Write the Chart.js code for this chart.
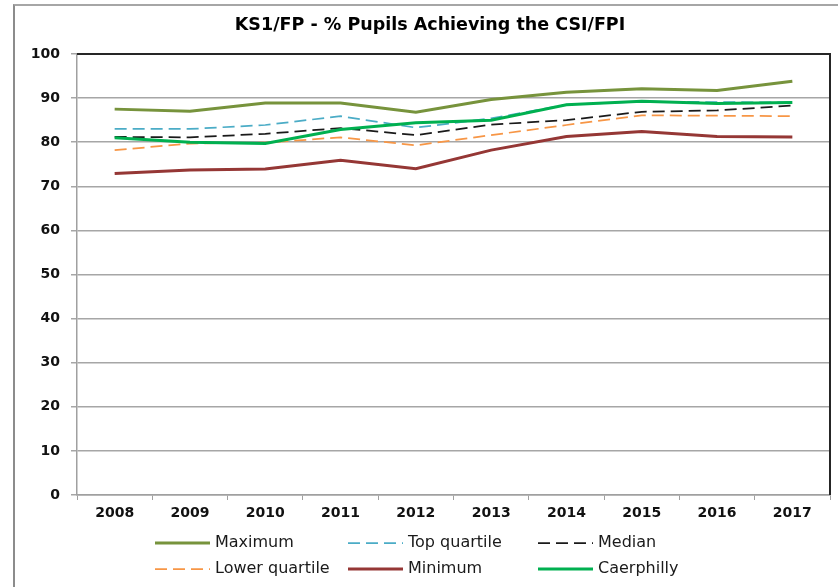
<!DOCTYPE html>
<html>
<head>
<meta charset="utf-8">
<script src="https://cdn.jsdelivr.net/npm/chart.js@4"></script>
<style>
  body { margin: 0; background: #fff; }
  #wrap { position: relative; width: 838px; height: 587px; overflow: hidden; }
  #frame { position: absolute; left: 13px; top: 4px; width: 840px; height: 600px; border-left: 2px solid #8c8c8c; border-top: 2px solid #a6a6a6; box-sizing: border-box; }
  canvas { position: absolute; left: 0; top: 0; }
</style>
</head>
<body>
<div id="wrap">
  <div id="frame"></div>
  <canvas id="chart" width="838" height="587"></canvas>
</div>
<script>
const years = ['2008', '2009', '2010', '2011', '2012', '2013', '2014', '2015', '2016', '2017'];
const maximum = [87.5, 87.0, 88.9, 88.9, 86.8, 89.7, 91.3, 92.1, 91.7, 93.8];
const topQuartile = [83.0, 83.0, 83.9, 85.9, 83.3, 85.4, 88.5, 89.2, 89.1, 89.0];
const median = [81.2, 81.1, 81.9, 83.2, 81.6, 84.0, 85.0, 86.9, 87.2, 88.3];
const lowerQuartile = [78.2, 79.7, 79.9, 81.1, 79.3, 81.6, 83.9, 86.1, 86.0, 85.9];
const minimum = [72.9, 73.7, 73.9, 75.9, 74.0, 78.2, 81.3, 82.4, 81.3, 81.2];
const caerphilly = [81.0, 80.0, 79.7, 82.9, 84.4, 85.0, 88.5, 89.3, 88.8, 89.0];

const series = [
  { label: 'Maximum', data: maximum, color: '#77933c', width: 3, dash: [] },
  { label: 'Top quartile', data: topQuartile, color: '#4bacc6', width: 1.75, dash: [12, 6] },
  { label: 'Median', data: median, color: '#1a1a1a', width: 1.75, dash: [12, 6] },
  { label: 'Lower quartile', data: lowerQuartile, color: '#f79646', width: 1.75, dash: [12, 6] },
  { label: 'Minimum', data: minimum, color: '#953735', width: 3, dash: [] },
  { label: 'Caerphilly', data: caerphilly, color: '#00b050', width: 3, dash: [] }
];

// Caerphilly drawn on top of the others
const drawOrder = { 'Caerphilly': 0, 'Maximum': 5, 'Minimum': 4 };

const fontFamily = '"DejaVu Sans", Verdana, sans-serif';

const frameTitleLegend = {
  id: 'frameTitleLegend',
  afterDraw(chart) {
    const ctx = chart.ctx;
    const a = chart.chartArea;
    ctx.save();
    // dark border top and right of plot
    ctx.strokeStyle = '#262626';
    ctx.lineWidth = 2;
    ctx.beginPath();
    ctx.moveTo(a.left, a.top);
    ctx.lineTo(a.right, a.top);
    ctx.lineTo(a.right, a.bottom);
    ctx.stroke();

    ctx.fillStyle = '#000';
    ctx.font = 'bold 17.5px ' + fontFamily;
    ctx.textAlign = 'center';
    ctx.textBaseline = 'middle';
    ctx.fillText('KS1/FP - % Pupils Achieving the CSI/FPI', 430, 25);

    // legend, two rows of three
    const colX = [155, 348, 538];
    const rowY = [543, 569];
    ctx.font = '16px ' + fontFamily;
    ctx.textAlign = 'left';
    ctx.fillStyle = '#1a1a1a';
    series.forEach((s, i) => {
      const x = colX[i % 3];
      const y = rowY[Math.floor(i / 3)];
      ctx.strokeStyle = s.color;
      ctx.lineWidth = s.width;
      ctx.setLineDash(s.dash);
      ctx.beginPath();
      ctx.moveTo(x, y);
      ctx.lineTo(x + 55, y);
      ctx.stroke();
      ctx.setLineDash([]);
      ctx.fillText(s.label, x + 60, y);
    });
    ctx.restore();
  }
};

new Chart(document.getElementById('chart'), {
  type: 'line',
  data: {
    labels: years,
    datasets: series.map(s => ({
      label: s.label,
      data: s.data,
      borderColor: s.color,
      backgroundColor: s.color,
      borderWidth: s.width,
      borderDash: s.dash,
      pointRadius: 0,
      tension: 0,
      order: drawOrder[s.label] !== undefined ? drawOrder[s.label] : 2
    }))
  },
  options: {
    responsive: false,
    animation: false,
    layout: { padding: { left: 0, right: 8, top: 54, bottom: 57 } },
    plugins: { legend: { display: false }, tooltip: { enabled: false } },
    scales: {
      x: {
        offset: true,
        grid: { offset: true, drawOnChartArea: false, drawTicks: true, tickLength: 5, color: '#a0a0a0' },
        border: { color: '#a0a0a0', width: 1.5 },
        ticks: { color: '#111', font: { family: fontFamily, size: 14, weight: 'bold' }, padding: 5 },
        afterFit(scale) { scale.height = 35; }
      },
      y: {
        min: 0,
        max: 100,
        ticks: { stepSize: 10, color: '#111', font: { family: fontFamily, size: 14, weight: 'bold' }, padding: 11 },
        grid: { color: '#a6a6a6', lineWidth: 1.5, tickLength: 6 },
        border: { color: '#a0a0a0', width: 1.5 },
        afterFit(scale) { scale.width = 77; }
      }
    }
  },
  plugins: [frameTitleLegend]
});
</script>
</body>
</html>
